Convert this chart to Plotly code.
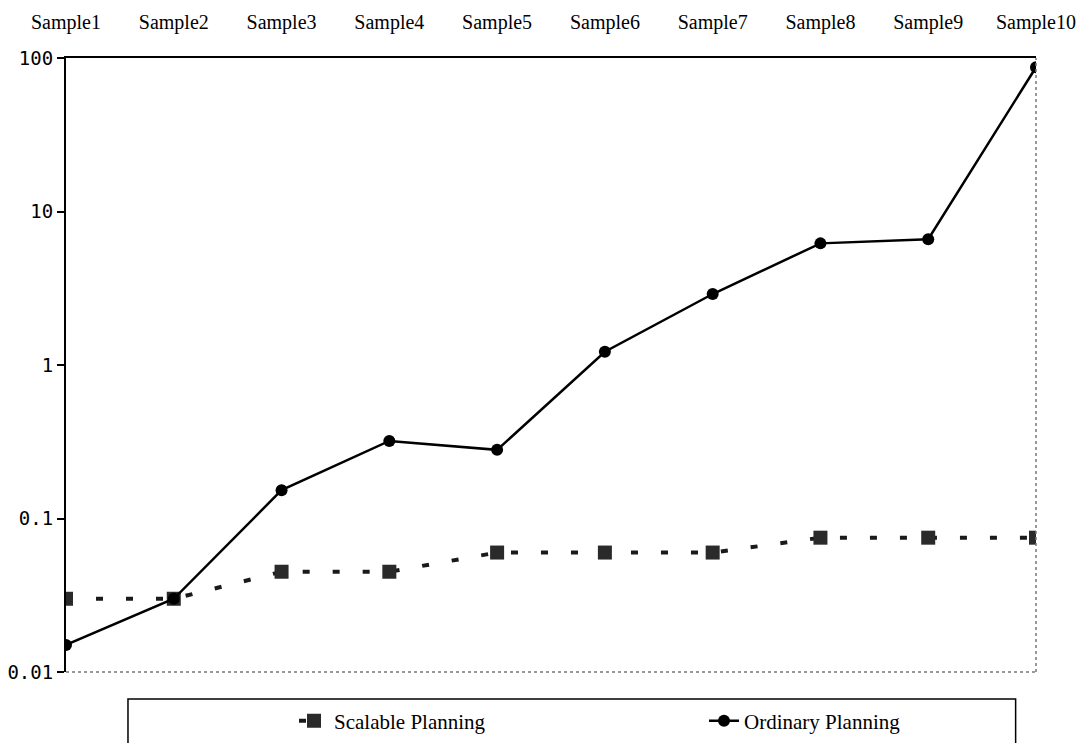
import plotly.graph_objects as go

# Planning time per sample (log scale)
samples = ["Sample1", "Sample2", "Sample3", "Sample4", "Sample5",
           "Sample6", "Sample7", "Sample8", "Sample9", "Sample10"]
scalable_planning = [0.03, 0.03, 0.045, 0.045, 0.06, 0.06, 0.06, 0.075, 0.075, 0.075]
ordinary_planning = [0.015, 0.03, 0.153, 0.32, 0.28, 1.22, 2.9, 6.2, 6.6, 87]
y_tick_values = [0.01, 0.1, 1, 10, 100]
y_tick_labels = ["0.01", "0.1", "1", "10", "100"]

fig = go.Figure()

fig.add_trace(go.Scatter(
    x=samples, y=scalable_planning, name="Scalable Planning",
    mode="lines+markers", legend="legend",
    line=dict(color="#1a1a1a", width=4, dash="7px,23px"),
    marker=dict(symbol="square", size=14, color="#2a2a2a"),
))
fig.add_trace(go.Scatter(
    x=samples, y=ordinary_planning, name="Ordinary Planning",
    mode="lines+markers", legend="legend2",
    line=dict(color="black", width=2.5),
    marker=dict(symbol="circle", size=12, color="black"),
))

# plot area frame: dotted grey bottom and right edges
fig.add_shape(type="line", xref="paper", yref="paper", x0=0, x1=1, y0=0, y1=0,
              line=dict(color="#777777", width=1.5, dash="dot"))
fig.add_shape(type="line", xref="paper", yref="paper", x0=1, x1=1, y0=0, y1=1,
              line=dict(color="#777777", width=1.5, dash="dot"))

# legend box
fig.add_shape(type="rect", xref="paper", yref="paper",
              x0=0.0639, x1=0.979, y0=-0.044, y1=-0.2,
              line=dict(color="black", width=1.5), fillcolor="white", layer="below")

legend_font = dict(family="Liberation Serif", size=21, color="black")
legend_common = dict(orientation="h", yanchor="middle", y=-0.08, xanchor="left",
                     font=legend_font, bgcolor="rgba(0,0,0,0)", borderwidth=0)

fig.update_layout(
    width=1086, height=743,
    margin=dict(l=66, r=50, t=58, b=71, autoexpand=False),
    plot_bgcolor="white", paper_bgcolor="white",
    showlegend=True,
    legend=dict(x=(294 - 66) / 970, **legend_common),
    legend2=dict(x=(704 - 66) / 970, **legend_common),
    xaxis=dict(
        side="top", type="category", range=[0, 9],
        showline=True, linecolor="black", linewidth=2,
        showgrid=False, zeroline=False, ticks="",
        ticklabelstandoff=19,
        tickfont=dict(family="Liberation Serif", size=20, color="black"),
    ),
    yaxis=dict(
        type="log", range=[-2, 2],
        tickvals=y_tick_values, ticktext=y_tick_labels,
        showline=True, linecolor="black", linewidth=2,
        showgrid=False, zeroline=False,
        ticks="outside", ticklen=7, tickwidth=2, tickcolor="black",
        tickfont=dict(family="DejaVu Sans Mono", size=19, color="black"),
    ),
)

fig.write_html("out.html")
